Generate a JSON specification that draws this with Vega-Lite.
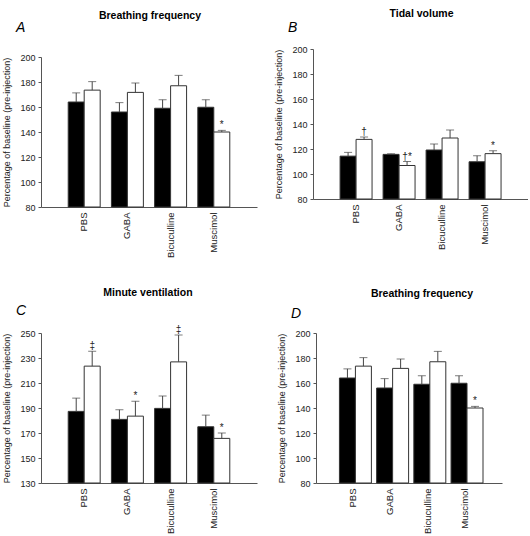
{
  "$schema": "https://vega.github.io/schema/vega-lite/v6.json",
  "padding": {"left": 2, "top": 8, "right": 0, "bottom": 0},
  "background": "white",
  "datasets": {
    "bf": [
      {"treatment": "PBS", "group": "1", "value": 164, "upper": 171.3, "sig": ""},
      {"treatment": "PBS", "group": "2", "value": 173.5, "upper": 180.3, "sig": ""},
      {"treatment": "GABA", "group": "1", "value": 156, "upper": 163.5, "sig": ""},
      {"treatment": "GABA", "group": "2", "value": 171.7, "upper": 179.2, "sig": ""},
      {"treatment": "Bicuculline", "group": "1", "value": 159, "upper": 165.8, "sig": ""},
      {"treatment": "Bicuculline", "group": "2", "value": 177, "upper": 185.3, "sig": ""},
      {"treatment": "Muscimol", "group": "1", "value": 159.8, "upper": 165.8, "sig": ""},
      {"treatment": "Muscimol", "group": "2", "value": 140, "upper": 141.3, "sig": "*"}
    ],
    "tv": [
      {"treatment": "PBS", "group": "1", "value": 114.3, "upper": 117.3, "sig": ""},
      {"treatment": "PBS", "group": "2", "value": 127.7, "upper": 129.6, "sig": "†"},
      {"treatment": "GABA", "group": "1", "value": 115.7, "upper": 116.2, "sig": ""},
      {"treatment": "GABA", "group": "2", "value": 106.8, "upper": 110, "sig": "†*"},
      {"treatment": "Bicuculline", "group": "1", "value": 119.2, "upper": 124, "sig": ""},
      {"treatment": "Bicuculline", "group": "2", "value": 128.8, "upper": 135.2, "sig": ""},
      {"treatment": "Muscimol", "group": "1", "value": 109.8, "upper": 114.6, "sig": ""},
      {"treatment": "Muscimol", "group": "2", "value": 116.3, "upper": 118.6, "sig": "*"}
    ],
    "mv": [
      {"treatment": "PBS", "group": "1", "value": 187.3, "upper": 197.9, "sig": ""},
      {"treatment": "PBS", "group": "2", "value": 223.5, "upper": 235.4, "sig": "‡"},
      {"treatment": "GABA", "group": "1", "value": 180.9, "upper": 188.6, "sig": ""},
      {"treatment": "GABA", "group": "2", "value": 183.5, "upper": 195.4, "sig": "*"},
      {"treatment": "Bicuculline", "group": "1", "value": 189.7, "upper": 199.6, "sig": ""},
      {"treatment": "Bicuculline", "group": "2", "value": 226.9, "upper": 248.4, "sig": "‡"},
      {"treatment": "Muscimol", "group": "1", "value": 175, "upper": 184.3, "sig": ""},
      {"treatment": "Muscimol", "group": "2", "value": 165.7, "upper": 170, "sig": "*"}
    ]
  },
  "config": {
    "font": "Liberation Sans",
    "view": {"stroke": null},
    "concat": {"spacing": 0},
    "axis": {
      "labelFont": "Liberation Sans",
      "titleFont": "Liberation Sans",
      "labelFontSize": 9,
      "titleFontSize": 9,
      "titleFontWeight": "normal",
      "grid": false,
      "labelOverlap": false,
      "domainColor": "#555555",
      "tickColor": "#555555",
      "labelColor": "#222222",
      "titleColor": "#222222"
    },
    "axisX": {"labelAngle": -90, "ticks": false, "labelPadding": 5, "title": null, "labelFontSize": 9.5},
    "axisY": {"tickSize": 3, "labelPadding": 3, "titlePadding": 8},
    "title": {"font": "Liberation Sans", "color": "#000000"}
  },
  "vconcat": [
    {
      "align": "none",
      "hconcat": [
        {
          "title": {"text": "Breathing frequency", "fontSize": 10.5, "fontWeight": "bold", "anchor": "middle", "dx": 20, "offset": 0},
          "vconcat": [
            {
              "title": {"text": "A", "fontSize": 14, "fontStyle": "italic", "fontWeight": "normal", "anchor": "start", "frame": "bounds", "dx": 13, "offset": 14},
              "width": 216, "height": 158,
              "data": {"name": "bf"},
              "encoding": {
                "x": {"field": "treatment", "type": "nominal", "sort": ["PBS", "GABA", "Bicuculline", "Muscimol"], "scale": {"paddingInner": 0.26, "paddingOuter": 0.63}},
                "xOffset": {"field": "group", "type": "nominal", "scale": {"paddingInner": 0, "paddingOuter": 0}},
                "y": {"field": "value", "type": "quantitative", "title": "Percentage of baseline (pre-injection)", "scale": {"domain": [80, 200], "range": [158, 8]}, "axis": {"values": [80, 100, 120, 140, 160, 180, 200], "labelOverlap": false}}
              },
              "layer": [
                {"mark": {"type": "bar", "stroke": "#333333", "strokeWidth": 1}, "encoding": {"y2": {"datum": 80}, "fill": {"field": "group", "type": "nominal", "scale": {"domain": ["1", "2"], "range": ["#000000", "#ffffff"]}, "legend": null}}},
                {"mark": {"type": "rule", "color": "#444444"}, "encoding": {"y2": {"field": "upper"}}},
                {"mark": {"type": "tick", "color": "#444444", "size": 8, "thickness": 1}, "encoding": {"y": {"field": "upper", "type": "quantitative", "title": "Percentage of baseline (pre-injection)", "axis": {"values": [80, 100, 120, 140, 160, 180, 200], "labelOverlap": false}}}},
                {"mark": {"type": "text", "baseline": "alphabetic", "dy": -2, "fontSize": 10, "color": "#222222", "fill": "#222222"}, "encoding": {"y": {"field": "upper", "type": "quantitative", "title": "Percentage of baseline (pre-injection)", "axis": {"values": [80, 100, 120, 140, 160, 180, 200], "labelOverlap": false}}, "text": {"field": "sig"}}}
              ]
            }
          ]
        },
        {
          "title": {"text": "Tidal volume", "fontSize": 10.5, "fontWeight": "bold", "anchor": "middle", "dx": 20, "offset": 2},
          "vconcat": [
            {
              "title": {"text": "B", "fontSize": 14, "fontStyle": "italic", "fontWeight": "normal", "anchor": "start", "frame": "bounds", "dx": 13, "offset": 10},
              "width": 215, "height": 150,
              "data": {"name": "tv"},
              "encoding": {
                "x": {"field": "treatment", "type": "nominal", "sort": ["PBS", "GABA", "Bicuculline", "Muscimol"], "scale": {"paddingInner": 0.26, "paddingOuter": 0.63}},
                "xOffset": {"field": "group", "type": "nominal", "scale": {"paddingInner": 0, "paddingOuter": 0}},
                "y": {"field": "value", "type": "quantitative", "title": "Percentage of baseline (pre-injection)", "scale": {"domain": [80, 200]}, "axis": {"values": [80, 100, 120, 140, 160, 180, 200], "labelOverlap": false}}
              },
              "layer": [
                {"mark": {"type": "bar", "stroke": "#333333", "strokeWidth": 1}, "encoding": {"y2": {"datum": 80}, "fill": {"field": "group", "type": "nominal", "scale": {"domain": ["1", "2"], "range": ["#000000", "#ffffff"]}, "legend": null}}},
                {"mark": {"type": "rule", "color": "#444444"}, "encoding": {"y2": {"field": "upper"}}},
                {"mark": {"type": "tick", "color": "#444444", "size": 8, "thickness": 1}, "encoding": {"y": {"field": "upper", "type": "quantitative", "title": "Percentage of baseline (pre-injection)", "axis": {"values": [80, 100, 120, 140, 160, 180, 200], "labelOverlap": false}}}},
                {"mark": {"type": "text", "baseline": "alphabetic", "dy": -2, "fontSize": 10, "color": "#222222", "fill": "#222222"}, "encoding": {"y": {"field": "upper", "type": "quantitative", "title": "Percentage of baseline (pre-injection)", "axis": {"values": [80, 100, 120, 140, 160, 180, 200], "labelOverlap": false}}, "text": {"field": "sig"}}}
              ]
            }
          ]
        }
      ],
      "spacing": 17
    },
    {
      "align": "none",
      "hconcat": [
        {
          "title": {"text": "Minute ventilation", "fontSize": 10.5, "fontWeight": "bold", "anchor": "middle", "dx": 18, "offset": 6},
          "vconcat": [
            {
              "title": {"text": "C", "fontSize": 14, "fontStyle": "italic", "fontWeight": "normal", "anchor": "start", "frame": "bounds", "dx": 13, "offset": 7},
              "width": 216, "height": 150,
              "data": {"name": "mv"},
              "encoding": {
                "x": {"field": "treatment", "type": "nominal", "sort": ["PBS", "GABA", "Bicuculline", "Muscimol"], "scale": {"paddingInner": 0.26, "paddingOuter": 0.63}},
                "xOffset": {"field": "group", "type": "nominal", "scale": {"paddingInner": 0, "paddingOuter": 0}},
                "y": {"field": "value", "type": "quantitative", "title": "Percentage of baseline (pre-injection)", "scale": {"domain": [130, 250]}, "axis": {"values": [130, 150, 170, 190, 210, 230, 250], "labelOverlap": false}}
              },
              "layer": [
                {"mark": {"type": "bar", "stroke": "#333333", "strokeWidth": 1}, "encoding": {"y2": {"datum": 130}, "fill": {"field": "group", "type": "nominal", "scale": {"domain": ["1", "2"], "range": ["#000000", "#ffffff"]}, "legend": null}}},
                {"mark": {"type": "rule", "color": "#444444"}, "encoding": {"y2": {"field": "upper"}}},
                {"mark": {"type": "tick", "color": "#444444", "size": 8, "thickness": 1}, "encoding": {"y": {"field": "upper", "type": "quantitative", "title": "Percentage of baseline (pre-injection)", "axis": {"values": [130, 150, 170, 190, 210, 230, 250], "labelOverlap": false}}}},
                {"mark": {"type": "text", "baseline": "alphabetic", "dy": -2, "fontSize": 10, "color": "#222222", "fill": "#222222"}, "encoding": {"y": {"field": "upper", "type": "quantitative", "title": "Percentage of baseline (pre-injection)", "axis": {"values": [130, 150, 170, 190, 210, 230, 250], "labelOverlap": false}}, "text": {"field": "sig"}}}
              ]
            }
          ]
        },
        {
          "title": {"text": "Breathing frequency", "fontSize": 10.5, "fontWeight": "bold", "anchor": "middle", "dx": 32, "offset": 8},
          "vconcat": [
            {
              "title": {"text": "D", "fontSize": 14, "fontStyle": "italic", "fontWeight": "normal", "anchor": "start", "frame": "bounds", "dx": 13, "offset": 8},
              "width": 186, "height": 150,
              "data": {"name": "bf"},
              "encoding": {
                "x": {"field": "treatment", "type": "nominal", "sort": ["PBS", "GABA", "Bicuculline", "Muscimol"], "scale": {"paddingInner": 0.26, "paddingOuter": 0.63}},
                "xOffset": {"field": "group", "type": "nominal", "scale": {"paddingInner": 0, "paddingOuter": 0}},
                "y": {"field": "value", "type": "quantitative", "title": "Percentage of baseline (pre-injection)", "scale": {"domain": [80, 200]}, "axis": {"values": [80, 100, 120, 140, 160, 180, 200], "labelOverlap": false}}
              },
              "layer": [
                {"mark": {"type": "bar", "stroke": "#333333", "strokeWidth": 1}, "encoding": {"y2": {"datum": 80}, "fill": {"field": "group", "type": "nominal", "scale": {"domain": ["1", "2"], "range": ["#000000", "#ffffff"]}, "legend": null}}},
                {"mark": {"type": "rule", "color": "#444444"}, "encoding": {"y2": {"field": "upper"}}},
                {"mark": {"type": "tick", "color": "#444444", "size": 8, "thickness": 1}, "encoding": {"y": {"field": "upper", "type": "quantitative", "title": "Percentage of baseline (pre-injection)", "axis": {"values": [80, 100, 120, 140, 160, 180, 200], "labelOverlap": false}}}},
                {"mark": {"type": "text", "baseline": "alphabetic", "dy": -2, "fontSize": 10, "color": "#222222", "fill": "#222222"}, "encoding": {"y": {"field": "upper", "type": "quantitative", "title": "Percentage of baseline (pre-injection)", "axis": {"values": [80, 100, 120, 140, 160, 180, 200], "labelOverlap": false}}, "text": {"field": "sig"}}}
              ]
            }
          ]
        }
      ],
      "spacing": 20
    }
  ],
  "spacing": 29
}
